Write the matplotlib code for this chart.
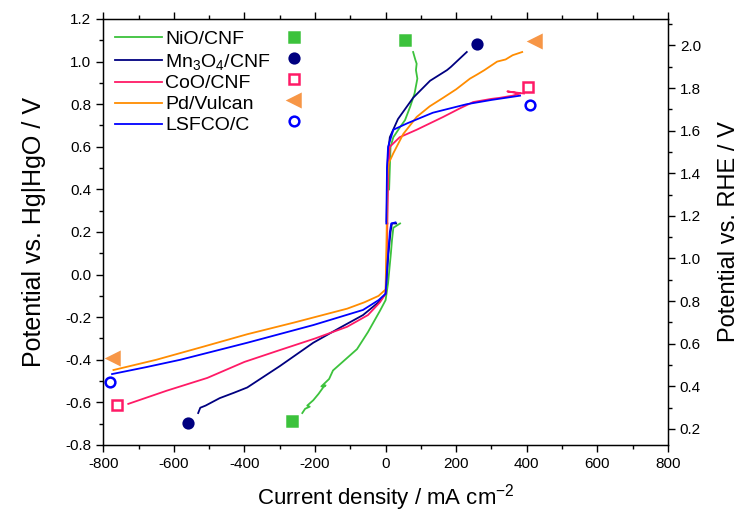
import matplotlib
matplotlib.use("Agg")
import matplotlib.pyplot as plt
from matplotlib.lines import Line2D
from matplotlib.ticker import MultipleLocator, FormatStrFormatter

plt.rcParams['font.family'] = ['Liberation Sans', 'DejaVu Sans']
plt.rcParams['mathtext.fontset'] = 'custom'
plt.rcParams['mathtext.rm'] = 'Liberation Sans'
plt.rcParams['mathtext.it'] = 'Liberation Sans'
plt.rcParams['axes.unicode_minus'] = False

# polarisation curves (current mA cm-2, potential V vs Hg|HgO)
nio_x = [-236, -228, -215, -222, -205, -190, -177, -170, -182, -160, -149, -115, -81, -50, -16, 0, 7, 15, 18, 22, 41,
         None, 10, 14, 22, 40, 55, 70, 82, 90, 86, 88, 84, 78]
nio_y = [-0.65, -0.63, -0.62, -0.615, -0.59, -0.56, -0.53, -0.52, -0.525, -0.49, -0.45, -0.40, -0.35, -0.27, -0.17,
         -0.12, -0.04, 0.10, 0.16, 0.22, 0.24,
         None, 0.40, 0.60, 0.645, 0.69, 0.725, 0.79, 0.85, 0.92, 0.96, 0.99, 1.01, 1.045]
mn_x = [-531, -525, -510, -470, -430, -392, -300, -205, -130, -64, -20, 0, 8, 14, 18, 30,
        None, 3, 5, 8, 12, 35, 78, 126, 174, 185, 230]
mn_y = [-0.65, -0.625, -0.615, -0.58, -0.555, -0.53, -0.43, -0.32, -0.25, -0.19, -0.13, -0.09, 0.10, 0.20, 0.24, 0.24,
        None, 0.25, 0.50, 0.59, 0.645, 0.73, 0.83, 0.91, 0.96, 0.975, 1.045]
coo_x = [-729, -620, -505, -400, -299, -200, -109, -50, -16, 0, 3, 5,
         None, 5, 8, 12, 40, 88, 163, 210, 248, 300, 324, 360, 381, 345, 392]
coo_y = [-0.607, -0.545, -0.485, -0.41, -0.354, -0.30, -0.245, -0.19, -0.13, -0.09, 0.05, 0.24,
         None, 0.24, 0.50, 0.60, 0.645, 0.68, 0.74, 0.78, 0.81, 0.825, 0.83, 0.84, 0.85, 0.86, 0.85]
pd_x = [-771, -650, -520, -392, -259, -109, -60, -20, 0, 3, 5, 8, 22, 50, 88, 125, 163, 200, 239, 260, 280, 316,
        340, 360, 387]
pd_y = [-0.448, -0.40, -0.34, -0.28, -0.225, -0.16, -0.13, -0.10, -0.07, 0.20, 0.45, 0.52, 0.57, 0.66, 0.74, 0.79, 0.83,
        0.87, 0.92, 0.94, 0.96, 1.0, 1.01, 1.03, 1.045]
lsf_x = [-775, -680, -582, -392, -205, -64, -20, 0, 5, 12, 16, 28,
         None, 2, 4, 7, 22, 61, 134, 230, 300, 381]
lsf_y = [-0.467, -0.435, -0.40, -0.32, -0.237, -0.166, -0.12, -0.09, 0.05, 0.20, 0.24, 0.245,
         None, 0.24, 0.50, 0.60, 0.68, 0.71, 0.76, 0.80, 0.82, 0.84]

# end-point symbols
nio_mx, nio_my = [55, -265], [1.101, -0.687]
mn_mx, mn_my = [259, -559], [1.083, -0.697]
coo_mx, coo_my = [404, -760], [0.881, -0.610]
pd_mx, pd_my = [423, -772], [1.097, -0.392]
lsf_mx, lsf_my = [409, -780], [0.796, -0.504]

labels = ['NiO/CNF', 'Mn$_3$O$_4$/CNF', 'CoO/CNF', 'Pd/Vulcan', 'LSFCO/C']
colors = ['#3cc23c', '#000080', '#ff1a66', '#ff8c00', '#0000ff']
mcolors = ['#3cc23c', '#000080', '#ff1a66', '#f79646', '#0000ff']
markers = ['s', 'o', 's', '<', 'o']
filled = [True, True, False, True, False]

fig = plt.figure(figsize=(7.48, 5.16), dpi=100)
ax = fig.add_axes([0.138, 0.1376, 0.755, 0.8256])

curves = [(nio_x, nio_y), (mn_x, mn_y), (coo_x, coo_y), (pd_x, pd_y), (lsf_x, lsf_y)]
msets = [(nio_mx, nio_my), (mn_mx, mn_my), (coo_mx, coo_my), (pd_mx, pd_my), (lsf_mx, lsf_my)]
line_handles = []
marker_handles = []
for (cx, cy), (mx, my), lab, c, mc, m, f in zip(curves, msets, labels, colors, mcolors, markers, filled):
    cxx = [float('nan') if v is None else v for v in cx]
    cyy = [float('nan') if v is None else v for v in cy]
    ax.plot(cxx, cyy, color=c, lw=1.3)
    ms = 9 if m == '<' else 7
    ax.plot(mx, my, ls='none', marker=m, ms=ms, color=mc,
            mfc=mc if f else 'white', mec=mc, mew=1.8)
    line_handles.append(Line2D([], [], color=c, lw=1.3, label=lab))
    marker_handles.append(Line2D([], [], ls='none', marker=m, ms=ms, color=mc,
                                 mfc=mc if f else 'white', mec=mc, mew=1.8))

ax.set_xlim(-800, 800)
ax.set_ylim(-0.8, 1.2)
ax.xaxis.set_major_locator(MultipleLocator(200))
ax.xaxis.set_minor_locator(MultipleLocator(100))
ax.yaxis.set_major_locator(MultipleLocator(0.2))
ax.yaxis.set_minor_locator(MultipleLocator(0.1))
ax.yaxis.set_major_formatter(FormatStrFormatter('%.1f'))
ax.tick_params(which='both', direction='out', top=True, labelsize=11, width=1)
ax.tick_params(which='major', length=5)
ax.tick_params(which='minor', length=3)
for s in ax.spines.values():
    s.set_linewidth(1)

ax.set_xlabel('Current density / mA cm$^{-2}$', fontsize=16, labelpad=8)
ax.set_ylabel('Potential vs. Hg|HgO / V', fontsize=18, labelpad=14)

offset = 0.924
ax2 = ax.twinx()
ax2.set_ylim(-0.8 + offset, 1.2 + offset)
ax2.yaxis.set_major_locator(MultipleLocator(0.2))
ax2.yaxis.set_minor_locator(MultipleLocator(0.1))
ax2.yaxis.set_major_formatter(FormatStrFormatter('%.1f'))
ax2.tick_params(which='both', direction='out', labelsize=11, width=1)
ax2.tick_params(which='major', length=5)
ax2.tick_params(which='minor', length=3)
ax2.set_ylabel('Potential vs. RHE / V', fontsize=17, labelpad=12)

leg1 = ax.legend(handles=line_handles, loc='upper left', bbox_to_anchor=(0.0, 1.0),
                 frameon=False, fontsize=14, handlelength=2.4, handletextpad=0.2,
                 labelspacing=0.17, borderaxespad=0.3, borderpad=0.3)
ax.add_artist(leg1)
ax.legend(handles=marker_handles, labels=[''] * 5, loc='upper left',
          bbox_to_anchor=(0.3, 1.0), frameon=False, fontsize=14, handlelength=1,
          labelspacing=0.17, borderaxespad=0.3, borderpad=0.3, handletextpad=0)

fig.savefig('out.png', dpi=100)
